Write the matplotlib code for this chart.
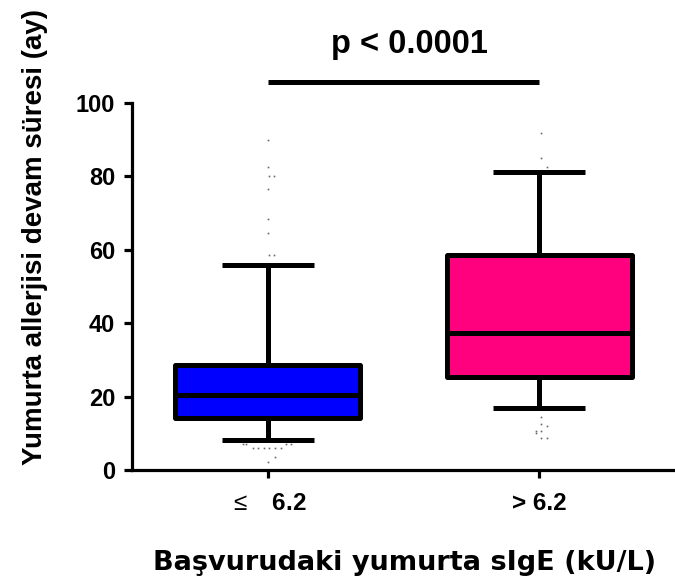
import matplotlib
matplotlib.use("Agg")
import matplotlib.pyplot as plt
import numpy as np

plt.rcParams['font.family'] = ['Liberation Sans', 'DejaVu Sans']
plt.rcParams['mathtext.fontset'] = 'custom'
plt.rcParams['mathtext.rm'] = 'Liberation Sans'
plt.rcParams['mathtext.bf'] = 'Liberation Sans:bold'

# Data
categories = [r"$\mathrm{\leq}$   $\mathbf{6.2}$", "> 6.2"]
box_colors = ["#0000FF", "#FF007F"]
whisker_low = [8.2, 16.9]
q1 = [14.2, 25.3]
median = [20.4, 37.3]
q3 = [28.6, 58.6]
whisker_high = [55.9, 81.2]

g1_out_vals = [90.0, 82.6, 80.2, 80.2, 76.7, 68.4, 64.7, 58.6, 58.6,
               7.1, 7.1, 7.1, 7.1, 5.9, 5.9, 5.9, 5.9, 5.9, 5.9, 3.5, 2.3]
g1_out_dx = [0.0, 0.0, 0.005, 0.023, 0.0, 0.0, 0.0, 0.005, 0.023,
             -0.092, -0.081, 0.066, 0.084, -0.055, -0.037, -0.015, 0.004, 0.026, 0.048, 0.026, 0.0]
g2_out_vals = [91.7, 85.1, 82.6, 14.5, 12.5, 12.0, 10.7, 10.7, 10.0, 8.6, 8.6]
g2_out_dx = [0.006, 0.006, 0.028, 0.006, 0.006, 0.029, -0.011, 0.006, -0.011, 0.006, 0.029]

p_text = "p < 0.0001"
p_bar_y = 105.8
p_text_y = 113.6

fig = plt.figure(figsize=(6.75, 5.82), dpi=100)
ax = fig.add_axes([0.1956, 0.1924, 0.8044, 0.6306])

stats = []
for i in range(2):
    stats.append(dict(med=median[i], q1=q1[i], q3=q3[i],
                      whislo=whisker_low[i], whishi=whisker_high[i], fliers=[]))
positions = np.arange(len(categories))
lw = 3.6
bp = ax.bxp(stats, positions=positions, widths=0.68, patch_artist=True,
            showfliers=False,
            boxprops=dict(linewidth=lw, edgecolor='black', joinstyle='round'),
            medianprops=dict(linewidth=lw, color='black', solid_capstyle='butt'),
            whiskerprops=dict(linewidth=lw, color='black', solid_capstyle='butt'),
            capprops=dict(linewidth=lw, color='black', solid_capstyle='butt'),
            capwidths=0.34)
for patch, c in zip(bp['boxes'], box_colors):
    patch.set_facecolor(c)

for pos, vals, dx in [(0, g1_out_vals, g1_out_dx), (1, g2_out_vals, g2_out_dx)]:
    ax.plot(pos + np.array(dx), vals, linestyle='none', marker='s', markersize=1.2,
            color='#666666', markeredgewidth=0)

ax.set_xlim(-0.5, 1.5)
ax.set_ylim(0, 100)
ax.set_yticks([0, 20, 40, 60, 80, 100])
ax.set_xticks(positions)
ax.set_xticklabels(categories)
for spine in ['top', 'right']:
    ax.spines[spine].set_visible(False)
for spine in ['left', 'bottom']:
    ax.spines[spine].set_linewidth(2.3)
ax.tick_params(axis='both', width=2.3, length=6, labelsize=17, pad=6)
for lab in ax.get_xticklabels() + ax.get_yticklabels():
    lab.set_fontweight('bold')
ax.tick_params(axis='x', pad=10, labelsize=17.5)

ax.plot([0, 1], [p_bar_y, p_bar_y], color='black', linewidth=3.6, clip_on=False,
        solid_capstyle='butt')
ax.text(0.52, p_text_y, p_text, ha='center', va='baseline', fontsize=23.5,
        fontweight='bold', clip_on=False)

ax.set_xlabel("Başvurudaki yumurta sIgE (kU/L)", fontsize=19.5, fontweight='bold',
              family=['DejaVu Sans'])
ax.xaxis.label.set_verticalalignment('baseline')
ax.xaxis.set_label_coords(0.502, -0.2725)
ax.set_ylabel("Yumurta allerjisi devam süresi (ay)", fontsize=20, fontweight='bold')
ax.yaxis.set_label_coords(-0.155, 0.636)

fig.savefig("out.png", dpi=100)
